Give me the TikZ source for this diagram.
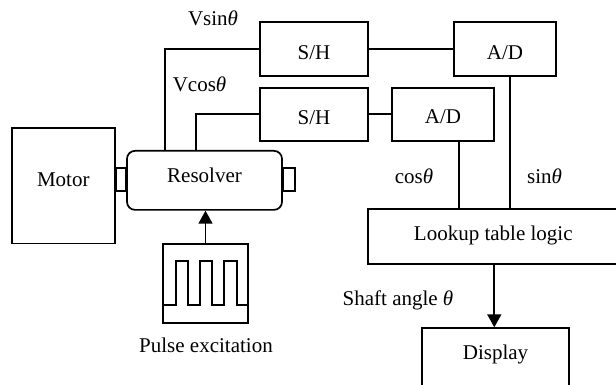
\documentclass[tikz,border=0pt]{standalone}
\usepackage{fontspec}
\setmainfont{Liberation Serif}
\usetikzlibrary{arrows.meta}
\newcommand{\thet}{{\itshape θ}}
\begin{document}
\begin{tikzpicture}[x=1pt,y=-1pt,line width=1.7pt,
  font=\fontsize{21}{25}\selectfont,
  blk/.style={draw,anchor=north,inner xsep=0pt,inner ysep=0pt},
  lbl/.style={anchor=base,inner sep=0pt},
  arr/.style={-{Triangle[length=13pt,width=14pt]}}]
\useasboundingbox (0,0) rectangle (616,385);
\clip (0,0) rectangle (616,385);
% blocks
\node[blk,minimum width=103.3pt,text height=58.7pt,text depth=57pt] (mot) at (63.3,127) {Motor};
\node[blk,rounded corners=8pt,minimum width=155pt,text height=32pt,text depth=27pt] (res) at (204.5,150) {Resolver};
\node[blk,minimum width=108pt,text height=37.3pt,text depth=16.7pt] (sh1) at (314,21) {S/H};
\node[blk,minimum width=108pt,text height=36.3pt,text depth=16.7pt] (sh2) at (314,87) {S/H};
\node[blk,minimum width=102pt,text height=37.3pt,text depth=16.7pt] (ad1) at (505,21) {A/D};
\node[blk,minimum width=102pt,text height=35.3pt,text depth=17.7pt] (ad2) at (443,87) {A/D};
\node[blk,minimum width=250pt,text height=31.2pt,text depth=23.8pt] (lut) at (493.3,208.3) {Lookup table logic};
\node[blk,minimum width=147.6pt,text height=31.7pt,text depth=45pt] (disp) at (495.5,327.3) {Display};
\node[blk,minimum width=85pt,minimum height=79pt] (pulse) at (205.5,243.3) {};
% shaft stubs
\draw (mot.east |- 0,168.3) rectangle (res.west |- 0,190.7);
\draw (res.east |- 0,168.3) rectangle (295,190.7);
% pulse waveform
\draw (pulse.west |- 0,305) -- (175.7,305) -- (175.7,261) -- (187.7,261) -- (187.7,305)
  -- (200,305) -- (200,261) -- (212.3,261) -- (212.3,305) -- (224.3,305)
  -- (224.3,261) -- (237.3,261) -- (237.3,305) -- (pulse.east |- 0,305);
% wires
\coordinate (vs) at (165,0);
\coordinate (vc) at (196,0);
\coordinate (xc) at (459.3,0);
\coordinate (xs) at (510.3,0);
\draw (res.north -| vs) |- (sh1.west);
\draw (res.north -| vc) |- (sh2.west);
\draw (sh1.east) -- (ad1.west);
\draw (sh2.east) -- (ad2.west);
\draw (ad2.south -| xc) -- (lut.north -| xc);
\draw (ad1.south -| xs) -- (lut.north -| xs);
\draw[arr] (pulse.north) -- (pulse.north |- res.south);
\draw[arr] (lut.south -| disp.north) ++(-1.2,0) coordinate (ls) (ls) -- (ls |- disp.north);
% labels
\node[lbl] (lvs) at (213,26) {Vsin\thet};
\node[lbl] (lvc) at (199.5,91.7) {Vcos\thet};
\node[lbl] (lco) at (414,183.3) {cos\thet};
\node[lbl] (lsi) at (544.5,183.3) {sin\thet};
\node[lbl] (lsh) at (398,305) {Shaft angle \thet};
\node[lbl] (lpe) at (206,352.7) {Pulse excitation};
\end{tikzpicture}
\end{document}
